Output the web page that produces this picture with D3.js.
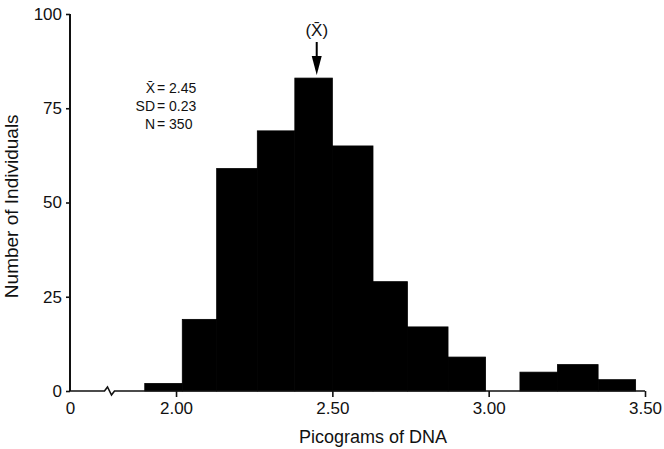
<!DOCTYPE html>
<html>
<head>
<meta charset="utf-8">
<script src="https://cdn.jsdelivr.net/npm/d3@7"></script>
<style>
  body { margin: 0; background: #fff; }
  text { font-family: "Liberation Sans", Arial, Helvetica, sans-serif; fill: #111; }
</style>
</head>
<body>
<div id="histogram"></div>
<script>
// 1: DATA
const binLo  = [1.90, 2.02, 2.13, 2.26, 2.38, 2.50, 2.63, 2.74, 2.87, 3.10, 3.22, 3.35];
const binHi  = [2.02, 2.13, 2.26, 2.38, 2.50, 2.63, 2.74, 2.87, 2.99, 3.22, 3.35, 3.47];
const counts = [2, 19, 59, 69, 83, 65, 29, 17, 9, 5, 7, 3];

const xTicks = [0, 2.0, 2.5, 3.0, 3.5];
const yTicks = [0, 25, 50, 75, 100];
const meanValue = 2.45;
const statLines = [["X\u0304", "2.45"], ["SD", "0.23"], ["N", "350"]];

// 2: GLOBALS
const margin = { top: 14, right: 19, bottom: 58, left: 70 };
const width = 664 - margin.left - margin.right;
const height = 449 - margin.top - margin.bottom;

const svg = d3.select("#histogram")
    .append("svg")
    .attr("width", 664)
    .attr("height", 449)
    .append("g")
    .attr("transform", `translate(${margin.left},${margin.top})`);

// 3: SCALES - x axis is broken between 0 and ~1.8, so use a piecewise scale
const xScale = d3.scaleLinear()
    .domain([0, 1.8, 3.5])
    .range([0, 43.5, width]);

const yScale = d3.scaleLinear()
    .domain([0, 100])
    .range([height, 0]);

// 4: BARS
const bins = counts.map((c, i) => ({ lo: binLo[i], hi: binHi[i], n: c }));

svg.selectAll("rect.bar")
    .data(bins)
    .enter()
    .append("rect")
    .attr("class", "bar")
    .attr("x", d => xScale(d.lo))
    .attr("width", d => xScale(d.hi) - xScale(d.lo))
    .attr("y", d => yScale(d.n))
    .attr("height", d => yScale(0) - yScale(d.n))
    .style("fill", "#000")
    .style("stroke", "#000")
    .style("stroke-width", 0.8);

// 5: AXES
const xAxis = svg.append("g")
    .attr("transform", `translate(0,${height})`)
    .call(d3.axisBottom(xScale)
        .tickValues(xTicks)
        .tickSize(6)
        .tickPadding(5)
        .tickFormat(d => d === 0 ? "0" : d3.format(".2f")(d)));
xAxis.select(".domain").remove();
xAxis.selectAll(".tick line").style("stroke", "#111").style("stroke-width", 1.6)
    .filter(d => d === 0).remove();
xAxis.selectAll(".tick text").style("font-size", "17px");

// axis line with a break mark
const bx = xScale(1.8) - 9;
svg.append("path")
    .attr("d", `M0,${height} H${bx} L${bx + 3},${height - 4} L${bx + 7},${height + 4} L${bx + 10},${height} H${xScale(3.5)}`)
    .style("fill", "none")
    .style("stroke", "#111")
    .style("stroke-width", 1.6);

const yAxis = svg.append("g")
    .call(d3.axisLeft(yScale)
        .tickValues(yTicks)
        .tickSize(4)
        .tickPadding(4));
yAxis.select(".domain").style("stroke", "#111").style("stroke-width", 2)
    .attr("d", `M0,${yScale(0)}V${yScale(100)}`);
yAxis.selectAll(".tick line").style("stroke", "#111").style("stroke-width", 1.6);
yAxis.selectAll(".tick text").style("font-size", "17px");

// 6: LABELS
svg.append("text")
    .attr("x", xScale(2.63))
    .attr("y", height + 52)
    .attr("text-anchor", "middle")
    .style("font-size", "18px")
    .text("Picograms of DNA");

svg.append("text")
    .attr("transform", `translate(${-52},${yScale(49)}) rotate(-90)`)
    .attr("text-anchor", "middle")
    .style("font-size", "19px")
    .text("Number of Individuals");

// stats block, lined up on the "=" signs
const stats = svg.append("g").attr("transform", "translate(85,0)");
statLines.forEach(([k, v], i) => {
    stats.append("text")
        .attr("x", 0)
        .attr("y", 79 + i * 18)
        .attr("text-anchor", "end")
        .style("font-size", "14px")
        .text(k);
    stats.append("text")
        .attr("x", 2)
        .attr("y", 79 + i * 18)
        .style("font-size", "14px")
        .text("= " + v);
});

// mean marker
const mx = xScale(meanValue);
svg.append("text")
    .attr("x", mx)
    .attr("y", 22)
    .attr("text-anchor", "middle")
    .style("font-size", "17px")
    .text("(X\u0304)");
svg.append("line")
    .attr("x1", mx).attr("x2", mx)
    .attr("y1", 28).attr("y2", 46)
    .style("stroke", "#000")
    .style("stroke-width", 2);
svg.append("path")
    .attr("d", `M${mx - 5},${42} L${mx + 5},${42} L${mx},${61} Z`)
    .style("fill", "#000");
</script>
</body>
</html>
